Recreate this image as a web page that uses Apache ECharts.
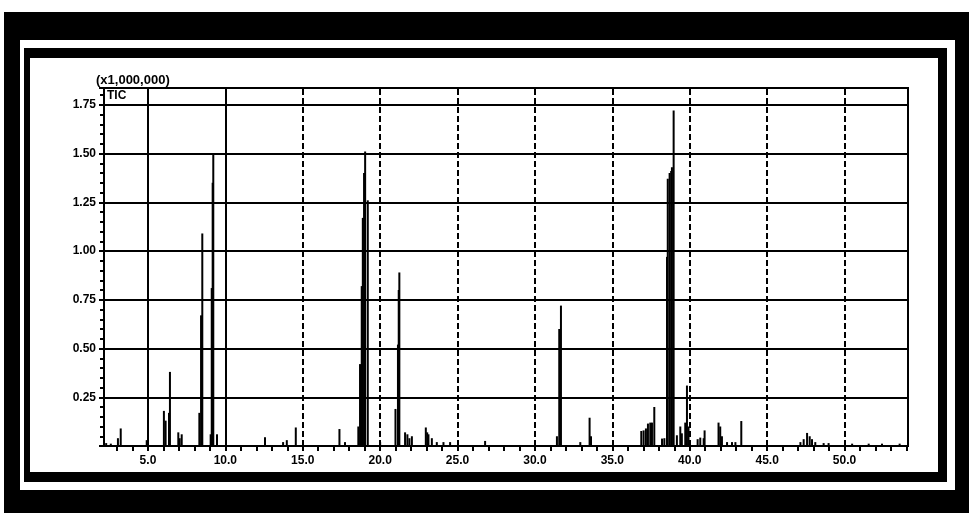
<!DOCTYPE html>
<html>
<head>
<meta charset="utf-8">
<script src="https://cdn.jsdelivr.net/npm/echarts@6/dist/echarts.min.js"></script>
<style>
html,body{margin:0;padding:0;background:#fff;}
#chart{width:969px;height:513px;}
</style>
</head>
<body>
<div id="chart"></div>
<script>
// Retention times (min) of the spikes in the TIC trace
var peakTimes = [2.30, 2.60, 3.06, 3.24, 4.92, 6.03, 6.14, 6.36, 6.42, 6.96, 7.05, 7.18,
  8.32, 8.43, 8.51, 9.05, 9.12, 9.18, 9.22, 9.46, 12.56, 13.73, 13.97, 14.55,
  17.37, 17.73, 18.59, 18.70, 18.81, 18.88, 18.96, 19.03, 19.20, 20.00,
  20.99, 21.15, 21.20, 21.24, 21.61, 21.76, 21.89, 22.05, 22.95, 23.04, 23.12, 23.34,
  23.66, 24.09, 24.52, 26.78, 31.42, 31.57, 31.68, 32.93, 33.53, 33.62,
  36.87, 37.02, 37.17, 37.30, 37.45, 37.56, 37.71, 38.21, 38.36, 38.53, 38.58, 38.70,
  38.80, 38.85, 38.96, 39.17, 39.39, 39.49, 39.71, 39.82, 39.92, 40.51, 40.68, 40.90,
  40.96, 41.86, 41.97, 42.08, 42.41, 42.73, 42.95, 43.33, 47.15, 47.36, 47.58, 47.75,
  47.90, 48.11, 48.65, 48.97, 50.49, 51.56, 52.42, 53.56];
// Intensities (x1,000,000)
var peakHeights = [0.015, 0.012, 0.04, 0.09, 0.03, 0.18, 0.13, 0.17, 0.38, 0.07, 0.04, 0.06,
  0.17, 0.67, 1.09, 0.06, 0.81, 1.35, 1.50, 0.06, 0.045, 0.02, 0.03, 0.095,
  0.087, 0.02, 0.10, 0.42, 0.82, 1.17, 1.40, 1.51, 1.26, 0.02,
  0.19, 0.52, 0.80, 0.89, 0.07, 0.06, 0.04, 0.05, 0.095, 0.07, 0.06, 0.04,
  0.02, 0.02, 0.02, 0.026, 0.05, 0.60, 0.72, 0.02, 0.145, 0.05,
  0.077, 0.08, 0.09, 0.115, 0.12, 0.12, 0.20, 0.038, 0.04, 0.97, 1.37, 1.40,
  1.41, 1.43, 1.72, 0.055, 0.10, 0.065, 0.12, 0.31, 0.10, 0.035, 0.043, 0.04,
  0.08, 0.12, 0.10, 0.05, 0.02, 0.02, 0.02, 0.128, 0.02, 0.035, 0.067, 0.05,
  0.035, 0.02, 0.015, 0.015, 0.012, 0.012, 0.012, 0.012];
var xTickValues = [3,4,5,6,7,8,9,10,11,12,13,14,15,16,17,18,19,20,21,22,23,24,25,26,27,28,
  29,30,31,32,33,34,35,36,37,38,39,40,41,42,43,44,45,46,47,48,49,50,51,52,53,54];
var xLabelValues = [5, 10, 15, 20, 25, 30, 35, 40, 45, 50];
var solidGridX = [5, 10];
var dashedGridX = [15, 20, 25, 30, 35, 40, 45, 50];
var yTickStep = 0.25;

var FONT = "'Liberation Sans', Arial, sans-serif";
var chart = echarts.init(document.getElementById('chart'), null, {renderer: 'canvas'});

var data = peakTimes.map(function (t, i) { return [t, peakHeights[i]]; });
var gridMarks = solidGridX.map(function (v) {
  return {xAxis: v, lineStyle: {type: 'solid'}};
}).concat(dashedGridX.map(function (v) {
  return {xAxis: v, lineStyle: {type: [6, 3]}};
}));

chart.setOption({
  animation: false,
  backgroundColor: '#fff',
  graphic: [
    {type: 'rect', z: -10, shape: {x: 4, y: 12, width: 965, height: 501}, style: {fill: '#000'}},
    {type: 'rect', z: -9, shape: {x: 20, y: 40, width: 935, height: 450}, style: {fill: '#fff'}},
    {type: 'rect', z: -8, shape: {x: 24, y: 48, width: 923, height: 434}, style: {fill: '#000'}},
    {type: 'rect', z: -7, shape: {x: 30, y: 58, width: 908, height: 414}, style: {fill: '#fff'}},
    {type: 'text', z: 10, left: 96, top: 74, style: {text: '(x1,000,000)', fill: '#000', font: 'bold 13px ' + FONT}},
    {type: 'text', z: 10, left: 107, top: 90, style: {text: 'TIC', fill: '#000', font: 'bold 12px ' + FONT}}
  ],
  grid: {
    left: 104, top: 88, right: 61, bottom: 67,
    show: true, borderColor: '#000', borderWidth: 2, backgroundColor: 'transparent',
    containLabel: false
  },
  xAxis: {
    type: 'value',
    min: 2.16, max: 54.1,
    axisLine: {show: true, onZero: false, lineStyle: {color: '#000', width: 2}},
    axisTick: {show: true, customValues: xTickValues, length: 5, lineStyle: {color: '#000', width: 2}},
    axisLabel: {
      show: true, customValues: xLabelValues, margin: 9,
      color: '#000', fontFamily: FONT, fontWeight: 'bold', fontSize: 12,
      formatter: function (v) { return v.toFixed(1); }
    },
    splitLine: {show: false}
  },
  yAxis: {
    type: 'value',
    min: 0, max: 1.836, interval: yTickStep,
    axisLine: {show: true, lineStyle: {color: '#000', width: 2}},
    axisTick: {show: true, length: 5, lineStyle: {color: '#000', width: 2}},
    minorTick: {show: true, splitNumber: 5, length: 4, lineStyle: {color: '#000', width: 2}},
    axisLabel: {
      margin: 8, color: '#000', fontFamily: FONT, fontWeight: 'bold', fontSize: 12,
      showMaxLabel: false,
      formatter: function (v) {
        if (v === 0) return '';
        if (Math.abs(v / yTickStep - Math.round(v / yTickStep)) > 1e-6) return '';
        return v.toFixed(2);
      }
    },
    splitLine: {show: true, lineStyle: {color: '#000', width: 2}}
  },
  series: [{
    type: 'bar',
    data: data,
    barWidth: 2,
    itemStyle: {color: '#000'},
    silent: true,
    markLine: {
      silent: true, symbol: 'none',
      label: {show: false},
      lineStyle: {color: '#000', width: 2},
      data: gridMarks
    }
  }]
});
</script>
</body>
</html>
